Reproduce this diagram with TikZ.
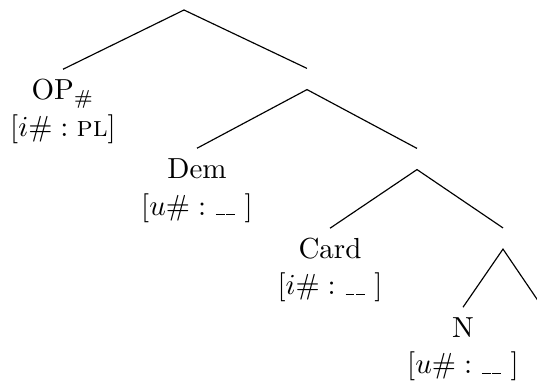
\documentclass[tikz,border=0pt]{standalone}
\usetikzlibrary{positioning}

% blank feature value: two short rules sitting on the baseline
\newcommand\ublank{\kern.06em\rule{.3em}{.4pt}}
\newcommand\blankval{\mbox{\ublank\ublank}}

\tikzset{
  cat/.style={anchor=base, inner sep=0pt, text height=6.9pt, text depth=0pt, outer ysep=3.7pt},
  feat/.style={anchor=base, inner sep=0pt},
  bar/.style={inner sep=0pt, minimum width=0pt, minimum height=6.9pt},
  branch/.style={line width=0.4pt}
}

\begin{document}
\begin{tikzpicture}[x=0.3448pt, y=-0.3448pt]
  \clip (0,0) rectangle (537,385);

  % root and the unlabelled intermediate projections
  \coordinate (root) at (184,10);
  \node[bar] (m1) at (307,79) {};
  \node[bar] (m2) at (417,159) {};
  \node[bar] (m3) at (503,238.5) {};
  \coordinate (m3r) at (543,308);

  % labelled terminals with their features
  \node[cat]  (op)    at (63,100)   {OP$_\#$};
  \node[feat] (opf)   at (63,136.5) {$[i\#:\textsc{pl}]$};
  \node[cat]  (dem)   at (197,179)  {Dem};
  \node[feat] (demf)  at (197,215.5){$[u\#:\blankval\ ]$};
  \node[cat]  (card)  at (330,259)  {Card};
  \node[feat] (cardf) at (330,295)  {$[i\#:\blankval\ ]$};
  \node[cat]  (n)     at (463,338)  {N};
  \node[feat] (nf)    at (463,374)  {$[u\#:\blankval\ ]$};

  % branches
  \draw[branch] (op.north) -- (root) -- (m1.north);
  \draw[branch] (dem.north) -- (m1.south) -- (m2.north);
  \draw[branch] (card.north) -- (m2.south) -- (m3.north);
  \draw[branch] (n.north) -- (m3.south) -- (m3r);
\end{tikzpicture}
\end{document}
